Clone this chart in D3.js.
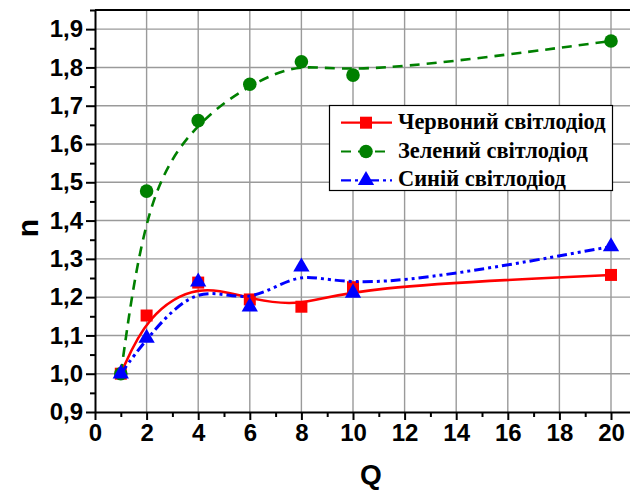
<!DOCTYPE html>
<html>
<head>
<meta charset="utf-8">
<script src="https://cdn.jsdelivr.net/npm/d3@7"></script>
<style>
  html, body { margin: 0; padding: 0; background: #fff; overflow: hidden; }
  svg { display: block; }
</style>
</head>
<body>
<svg id="chart" width="630" height="491"></svg>
<script>
// Refractive-index style factor n versus Q for three LEDs
const qValues = [1, 2, 4, 6, 8, 10, 20];
const redValues = [1.0, 1.152, 1.238, 1.194, 1.175, 1.226, 1.258];
const greenValues = [1.0, 1.477, 1.661, 1.756, 1.815, 1.780, 1.869];
const blueValues = [1.0, 1.093, 1.240, 1.175, 1.279, 1.211, 1.332];

const seriesNames = ["Червоний світлодіод", "Зелений світлодіод", "Синій світлодіод"];
const xTicks = [0, 2, 4, 6, 8, 10, 12, 14, 16, 18, 20];
const xMinorTicks = [1, 3, 5, 7, 9, 11, 13, 15, 17, 19];
const yTicks = [0.9, 1.0, 1.1, 1.2, 1.3, 1.4, 1.5, 1.6, 1.7, 1.8, 1.9];
const yMinorTicks = [0.95, 1.05, 1.15, 1.25, 1.35, 1.45, 1.55, 1.65, 1.75, 1.85, 1.95];
const xTitle = "Q";
const yTitle = "n";

const svg = d3.select("#chart");
const W = 630, H = 491;
const plotLeft = 95, plotBottom = 412, plotTop = 10;
const unit = 25.8;

const x = d3.scaleLinear().domain([0, 20.8]).range([plotLeft, plotLeft + 20.8 * unit]);
const y = d3.scaleLinear().domain([0.9, 1.95]).range([plotBottom, plotTop]);

const fmt = v => d3.format(".1f")(v).replace(".", ",");

// grid
const grid = svg.append("g").attr("stroke", "#9a9a9a").attr("stroke-width", 1.4);
grid.selectAll("line.gx").data(xTicks.filter(d => d > 0)).join("line")
  .attr("x1", d => x(d)).attr("x2", d => x(d))
  .attr("y1", plotTop).attr("y2", plotBottom);
grid.selectAll("line.gy").data(yTicks.filter(d => d > 0.9)).join("line")
  .attr("y1", d => y(d)).attr("y2", d => y(d))
  .attr("x1", plotLeft).attr("x2", W);

// top frame
svg.append("line").attr("x1", plotLeft).attr("x2", W).attr("y1", plotTop).attr("y2", plotTop)
  .attr("stroke", "#000").attr("stroke-width", 2);

// axes
const xAxis = svg.append("g").attr("transform", `translate(0,${plotBottom})`)
  .call(d3.axisBottom(x).tickValues(xTicks).tickSize(8).tickSizeOuter(0).tickFormat(d3.format("d")));
const xMinor = svg.append("g").attr("transform", `translate(0,${plotBottom})`)
  .call(d3.axisBottom(x).tickValues(xMinorTicks).tickSize(5).tickSizeOuter(0).tickFormat(""));
const yAxis = svg.append("g").attr("transform", `translate(${plotLeft},0)`)
  .call(d3.axisLeft(y).tickValues(yTicks).tickSize(9).tickSizeOuter(0).tickFormat(fmt));
const yMinor = svg.append("g").attr("transform", `translate(${plotLeft},0)`)
  .call(d3.axisLeft(y).tickValues(yMinorTicks).tickSize(5).tickSizeOuter(0).tickFormat(""));

[xAxis, xMinor, yAxis, yMinor].forEach(g => {
  g.selectAll("path.domain").attr("stroke", "#000").attr("stroke-width", 2);
  g.selectAll(".tick line").attr("stroke", "#000").attr("stroke-width", 2);
});
xMinor.select("path.domain").remove();
yMinor.select("path.domain").remove();

xAxis.selectAll(".tick text")
  .attr("font-family", "'Liberation Sans', Arial, sans-serif")
  .attr("font-weight", "bold").attr("font-size", 24).attr("fill", "#000")
  .attr("y", 12);
yAxis.selectAll(".tick text")
  .attr("font-family", "'Liberation Sans', Arial, sans-serif")
  .attr("font-weight", "bold").attr("font-size", 24).attr("fill", "#000")
  .attr("x", -12);

// axis titles
svg.append("text").text(xTitle)
  .attr("x", 371).attr("y", 484).attr("text-anchor", "middle")
  .attr("font-family", "'Liberation Sans', Arial, sans-serif")
  .attr("font-weight", "bold").attr("font-size", 28);
svg.append("text").text(yTitle)
  .attr("transform", "translate(38,228) rotate(-90)").attr("text-anchor", "middle")
  .attr("font-family", "'Liberation Sans', Arial, sans-serif")
  .attr("font-weight", "bold").attr("font-size", 30);

// series
const series = [
  { name: seriesNames[0], values: redValues, color: "#ff0000", dash: null, width: 2.6, symbol: d3.symbolSquare, size: 144 },
  { name: seriesNames[1], values: greenValues, color: "#008000", dash: "10,7", width: 2.6, symbol: d3.symbolCircle, size: 145 },
  { name: seriesNames[2], values: blueValues, color: "#0000ff", dash: "10,4,3,4,3,4", width: 3, symbol: d3.symbolTriangle, size: 115 }
];

const line = d3.line().x(d => x(d[0])).y(d => y(d[1])).curve(d3.curveBasis);

series.forEach(s => {
  const pts = qValues.map((q, i) => [q, s.values[i]]);
  const g = svg.append("g");
  g.append("path").attr("d", line(pts))
    .attr("fill", "none").attr("stroke", s.color).attr("stroke-width", s.width)
    .attr("stroke-dasharray", s.dash);
  g.selectAll("path.m").data(pts).join("path")
    .attr("class", "m")
    .attr("transform", d => `translate(${x(d[0])},${y(d[1])})`)
    .attr("d", d3.symbol(s.symbol, s.size)())
    .attr("fill", s.color);
});

// legend
const lg = svg.append("g");
lg.append("rect").attr("x", 329.5).attr("y", 105.5).attr("width", 283).attr("height", 85)
  .attr("fill", "#fff").attr("stroke", "#000").attr("stroke-width", 1.2);
series.forEach((s, i) => {
  const ry = 122.7 + i * 28.8;
  lg.append("line").attr("x1", 341).attr("x2", 392).attr("y1", ry).attr("y2", ry)
    .attr("stroke", s.color).attr("stroke-width", 2.2).attr("stroke-dasharray", s.dash);
  lg.append("path").attr("transform", `translate(366,${ry})`)
    .attr("d", d3.symbol(s.symbol, s.size)()).attr("fill", s.color);
  lg.append("text").text(s.name)
    .attr("x", 398).attr("y", ry + 6)
    .attr("font-family", "'Liberation Serif', 'Times New Roman', serif")
    .attr("font-weight", "bold")
    .attr("font-size", 22.4).attr("fill", "#000");
});
</script>
</body>
</html>
